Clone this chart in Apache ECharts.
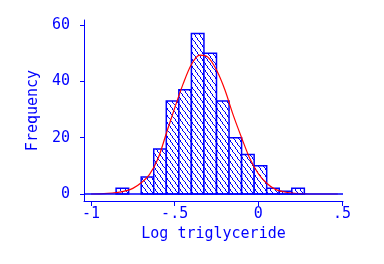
<!DOCTYPE html>
<html>
<head>
<meta charset="utf-8">
<script src="https://cdn.jsdelivr.net/npm/echarts@6/dist/echarts.min.js"></script>
<style>
html,body{margin:0;padding:0;background:#fff;}
#c{width:384px;height:264px;}
</style>
</head>
<body>
<div id="c"></div>
<script>
// Histogram bins: left edge, right edge, frequency
const binLeft  = [-0.85, -0.70, -0.625, -0.55, -0.475, -0.40, -0.325, -0.25, -0.175, -0.10, -0.025, 0.05, 0.125, 0.20];
const binRight = [-0.775, -0.625, -0.55, -0.475, -0.40, -0.325, -0.25, -0.175, -0.10, -0.025, 0.05, 0.125, 0.20, 0.275];
const binCount = [2, 6, 16, 33, 37, 57, 50, 33, 20, 14, 10, 2, 1, 2];

// Density curve (scaled to frequency)
const curveX = [-1.00, -0.95, -0.90, -0.85, -0.80, -0.75, -0.70, -0.65, -0.60, -0.55, -0.50, -0.45, -0.40, -0.35, -0.30, -0.25, -0.20, -0.15, -0.10, -0.05, 0.00, 0.05, 0.10, 0.15, 0.20, 0.25, 0.30, 0.40, 0.475];
const curveY = [0, 0.05, 0.2, 0.5, 1.0, 2.0, 4.0, 7.0, 12.5, 21.5, 30.5, 39, 46, 49.3, 48.5, 44, 37, 28, 20, 12.5, 7.2, 3.8, 1.7, 0.8, 0.3, 0.1, 0, 0, 0];

const xTickValues = [-1, -0.5, 0, 0.5];
const xTickLabels = ['-1', '-.5', '0', '.5'];
const yTickValues = [0, 20, 40, 60];
const yTickLabels = ['0', '20', '40', '60'];

const BLUE = '#0000ff';
const RED = '#ff0000';
const FONT = 'DejaVu Sans Mono';

// hatch pattern "\" lines
const PW = 5, PH = 7;
const pc = document.createElement('canvas');
pc.width = PW; pc.height = PH;
const pctx = pc.getContext('2d');
pctx.fillStyle = '#ffffff';
pctx.fillRect(0, 0, PW, PH);
pctx.fillStyle = BLUE;
for (let y = 0; y < PH; y++) {
  pctx.fillRect(Math.floor(y * PW / PH), y, 1, 1);
}
const hatch = { image: pc, repeat: 'repeat' };

const barData = binLeft.map((l, i) => [l, binRight[i], binCount[i]]);
const curveData = curveX.map((x, i) => [x, curveY[i]]);

const chart = echarts.init(document.getElementById('c'), null, { renderer: 'canvas' });
chart.setOption({
  animation: false,
  backgroundColor: '#ffffff',
  grid: { left: 84, right: 41, top: 20, bottom: 63, containLabel: false },
  xAxis: {
    type: 'value',
    min: -1.0418, max: 0.506,
    name: 'Log triglyceride',
    nameLocation: 'middle',
    nameGap: 21,
    nameTextStyle: { color: BLUE, fontFamily: FONT, fontSize: 15 },
    axisLine: { onZero: false, lineStyle: { color: BLUE, width: 1 } },
    axisTick: { show: true, length: 5, customValues: xTickValues, lineStyle: { color: BLUE, width: 1 } },
    axisLabel: {
      customValues: xTickValues, margin: 6,
      color: BLUE, fontFamily: FONT, fontSize: 15,
      formatter: v => { const i = xTickValues.findIndex(t => Math.abs(t - v) < 1e-9); return i >= 0 ? xTickLabels[i] : ''; }
    },
    splitLine: { show: false }
  },
  yAxis: {
    type: 'value',
    min: -2.485, max: 61.775,
    name: 'Frequency',
    nameLocation: 'middle',
    nameGap: 41,
    nameTextStyle: { color: BLUE, fontFamily: FONT, fontSize: 15 },
    axisLine: { show: true, onZero: false, lineStyle: { color: BLUE, width: 1 } },
    axisTick: { show: true, length: 4, customValues: yTickValues, lineStyle: { color: BLUE, width: 1 } },
    axisLabel: {
      customValues: yTickValues, margin: 14,
      color: BLUE, fontFamily: FONT, fontSize: 15,
      formatter: v => { const i = yTickValues.findIndex(t => Math.abs(t - v) < 1e-9); return i >= 0 ? yTickLabels[i] : ''; }
    },
    splitLine: { show: false }
  },
  series: [
    {
      type: 'custom',
      z: 2,
      data: barData,
      encode: { x: [0, 1], y: 2 },
      renderItem: function (params, api) {
        const p0 = api.coord([api.value(0), api.value(2)]);
        const p1 = api.coord([api.value(1), 0]);
        return {
          type: 'rect',
          shape: { x: p0[0], y: p0[1], width: p1[0] - p0[0], height: p1[1] - p0[1] },
          style: { fill: hatch, stroke: BLUE, lineWidth: 1.5 }
        };
      }
    },
    {
      type: 'line',
      z: 2.5,
      data: [],
      markLine: {
        silent: true, symbol: 'none', label: { show: false },
        lineStyle: { color: BLUE, width: 1.5, type: 'solid' },
        data: [{ yAxis: 0 }]
      }
    },
    {
      type: 'line',
      z: 3,
      data: curveData,
      smooth: 0.3,
      showSymbol: false,
      lineStyle: { color: RED, width: 1.2 }
    }
  ]
});
</script>
</body>
</html>
